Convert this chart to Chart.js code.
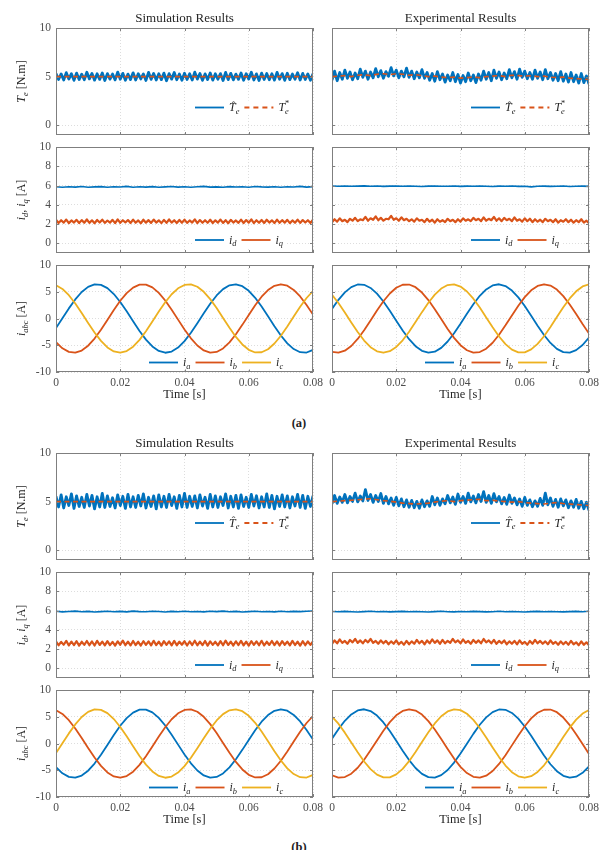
<!DOCTYPE html>
<html><head><meta charset="utf-8">
<script src="https://cdn.jsdelivr.net/npm/chart.js@4.4.0/dist/chart.umd.min.js"></script>
<style>
html,body{margin:0;padding:0;background:#fff;width:602px;height:850px;overflow:hidden;position:relative}
canvas{position:absolute}
.cap{position:absolute;font:bold 12.5px "Liberation Serif",serif;color:#222;width:40px;text-align:center;line-height:14px}
</style></head>
<body>
<div class="cap" style="left:279px;top:416px">(a)</div>
<div class="cap" style="left:279px;top:840px">(b)</div>
<script>
// ---------------- tick values / labels ----------------
const timeTicks = [0, 0.02, 0.04, 0.06, 0.08];
const timeTickLabels = ['0', '0.02', '0.04', '0.06', '0.08'];
const torqueTicks = [0, 5, 10];
const dqTicks = [0, 2, 4, 6, 8, 10];
const abcTicks = [-10, -5, 0, 5, 10];

// sampling grids (s)
const FINE_STEP = 0.0008;   // 101 samples on 0..0.08
const COARSE_STEP = 0.002;  // 41 samples on 0..0.08
const refTimes = [0, 0.08];

// ---------------- (a) torque ----------------
const aSimT = [
5.32,4.71,5.28,4.66,5.41,4.75,5.30,4.62,5.36,4.70,
5.25,4.68,5.45,4.77,5.33,4.64,5.29,4.72,5.38,4.60,
5.31,4.74,5.27,4.67,5.47,4.73,5.34,4.63,5.26,4.70,
5.39,4.65,5.30,4.76,5.28,4.61,5.44,4.72,5.33,4.66,
5.29,4.69,5.36,4.58,5.31,4.74,5.42,4.68,5.27,4.63,
5.35,4.71,5.30,4.66,5.46,4.75,5.32,4.62,5.28,4.70,
5.37,4.64,5.29,4.73,5.31,4.60,5.43,4.69,5.34,4.67,
5.26,4.72,5.38,4.63,5.30,4.75,5.45,4.66,5.28,4.61,
5.36,4.70,5.32,4.68,5.29,4.64,5.44,4.73,5.31,4.62,
5.35,4.69,5.27,4.74,5.40,4.65,5.33,4.71,5.28,4.63,
5.30];
const aSimTref = [5, 5];
const aExpT = [
4.63,5.57,4.58,5.42,4.73,5.67,4.83,5.47,4.68,5.37,
4.78,5.77,4.93,5.57,4.73,5.47,4.88,5.82,4.98,5.62,
4.83,5.52,5.03,5.92,5.08,5.67,4.88,5.57,4.98,5.87,
4.93,5.57,4.78,5.47,4.88,5.72,4.83,5.42,4.63,5.32,
4.53,5.52,4.68,5.27,4.43,5.17,4.58,5.42,4.48,5.22,
4.33,5.12,4.48,5.37,4.58,5.17,4.38,5.27,4.63,5.57,
4.73,5.42,4.58,5.67,4.83,5.47,4.68,5.37,4.78,5.72,
4.88,5.52,4.73,5.77,4.93,5.57,4.78,5.42,4.73,5.67,
4.83,5.47,4.68,5.72,4.78,5.42,4.63,5.32,4.58,5.52,
4.53,5.27,4.43,5.42,4.48,5.17,4.33,5.32,4.38,5.07,
4.23];
const aExpTref = [
5.00,5.05,5.10,5.00,5.15,5.20,5.10,5.25,5.30,5.20,
5.30,5.25,5.15,5.20,5.10,5.00,5.05,4.95,4.90,4.95,
4.85,4.90,4.95,4.90,5.00,5.05,5.10,5.00,5.15,5.10,
5.05,5.10,5.00,5.05,4.95,4.90,4.95,4.85,4.80,4.75,
4.70];

// ---------------- (a) id / iq ----------------
const aSimId = [
5.88,5.82,5.87,5.84,5.90,5.83,5.86,5.89,5.82,5.88,
5.85,5.91,5.83,5.87,5.84,5.89,5.82,5.86,5.90,5.84,
5.88,5.83,5.87,5.91,5.84,5.86,5.82,5.89,5.85,5.88,
5.83,5.90,5.86,5.84,5.88,5.82,5.87,5.85,5.91,5.84,
5.89];
const aSimIq = [
2.45,2.12,2.40,2.15,2.47,2.10,2.38,2.16,2.44,2.11,
2.41,2.14,2.48,2.13,2.39,2.09,2.43,2.16,2.46,2.12,
2.37,2.15,2.44,2.10,2.49,2.13,2.40,2.17,2.42,2.11,
2.46,2.14,2.38,2.09,2.45,2.15,2.41,2.12,2.47,2.16,
2.39,2.10,2.44,2.13,2.48,2.15,2.40,2.11,2.43,2.14,
2.46,2.12,2.38,2.16,2.49,2.10,2.42,2.14,2.40,2.13,
2.45,2.11,2.39,2.15,2.47,2.12,2.41,2.09,2.44,2.16,
2.38,2.13,2.46,2.11,2.42,2.15,2.48,2.10,2.40,2.14,
2.43,2.12,2.45,2.16,2.39,2.11,2.47,2.13,2.41,2.15,
2.44,2.10,2.38,2.14,2.46,2.12,2.42,2.16,2.40,2.11,
2.45];
const aExpId = [
5.95,5.93,5.96,5.92,5.94,5.97,5.93,5.95,5.91,5.94,
5.96,5.92,5.95,5.93,5.90,5.94,5.96,5.92,5.93,5.95,
5.91,5.94,5.92,5.96,5.93,5.90,5.94,5.92,5.95,5.91,
5.93,5.86,5.92,5.94,5.91,5.93,5.95,5.90,5.92,5.94,
5.91];
const aExpIq = [
2.20,2.50,2.25,2.60,2.30,2.45,2.20,2.55,2.35,2.65,
2.30,2.50,2.40,2.75,2.35,2.60,2.45,2.80,2.40,2.65,
2.35,2.55,2.50,2.85,2.45,2.60,2.35,2.70,2.40,2.55,
2.30,2.50,2.25,2.60,2.35,2.45,2.20,2.55,2.25,2.45,
2.15,2.50,2.25,2.40,2.20,2.55,2.30,2.45,2.20,2.50,
2.25,2.60,2.35,2.50,2.30,2.65,2.40,2.55,2.30,2.70,
2.35,2.55,2.40,2.75,2.35,2.60,2.30,2.65,2.40,2.55,
2.30,2.70,2.35,2.50,2.25,2.60,2.30,2.55,2.20,2.50,
2.25,2.45,2.20,2.55,2.30,2.45,2.20,2.50,2.15,2.40,
2.25,2.50,2.20,2.45,2.15,2.40,2.20,2.50,2.15,2.35,
2.10];

// ---------------- (a) phase currents ----------------
const aSimIa = [
-1.80,0.05,1.89,3.57,4.95,5.91,6.37,6.28,5.67,4.57,
3.09,1.34,-0.52,-2.33,-3.95,-5.23,-6.07,-6.40,-6.18,-5.44,
-4.23,-2.67,-0.88,0.98,2.76,4.31,5.49,6.20,6.39,6.04,
5.18,3.87,2.24,0.42,-1.44,-3.18,-4.64,-5.71,-6.30,-6.36,
-5.87];
const aSimIb = [
-4.42,-5.57,-6.24,-6.38,-5.99,-5.08,-3.75,-2.09,-0.26,1.59,
3.31,4.75,5.78,6.33,6.34,5.81,4.79,3.36,1.65,-0.21,
-2.04,-3.70,-5.05,-5.97,-6.38,-6.25,-5.60,-4.46,-2.95,-1.19,
0.67,2.48,4.07,5.32,6.12,6.40,6.14,5.35,4.12,2.53,
0.73];
const aSimIc = [
6.22,5.52,4.35,2.81,1.04,-0.83,-2.62,-4.19,-5.41,-6.16,
-6.40,-6.09,-5.27,-4.00,-2.39,-0.57,1.29,3.04,4.53,5.64,
6.27,6.37,5.93,4.99,3.62,1.95,0.11,-1.74,-3.44,-4.85,
-5.85,-6.35,-6.31,-5.74,-4.68,-3.23,-1.50,0.36,2.19,3.83,
5.14];
const aExpIa = [
1.80,3.49,4.89,5.87,6.36,6.30,5.71,4.64,3.17,1.44,
-0.42,-2.24,-3.87,-5.18,-6.04,-6.39,-6.20,-5.49,-4.30,-2.76,
-0.98,0.89,2.67,4.24,5.44,6.18,6.40,6.07,5.23,3.95,
2.33,0.51,-1.35,-3.09,-4.57,-5.67,-6.28,-6.37,-5.91,-4.95,
-3.57];
const aExpIb = [
-6.22,-6.39,-6.02,-5.14,-3.82,-2.18,-0.36,1.50,3.23,4.68,
5.74,6.31,6.35,5.85,4.85,3.44,1.74,-0.11,-1.95,-3.62,
-4.99,-5.93,-6.37,-6.27,-5.64,-4.53,-3.04,-1.28,0.58,2.39,
4.00,5.27,6.09,6.40,6.16,5.41,4.19,2.62,0.82,-1.04,
-2.81];
const aExpIc = [
4.42,2.90,1.13,-0.73,-2.53,-4.12,-5.36,-6.14,-6.40,-6.12,
-5.32,-4.07,-2.47,-0.67,1.19,2.95,4.47,5.60,6.25,6.38,
5.97,5.05,3.70,2.04,0.20,-1.65,-3.36,-4.79,-5.81,-6.34,
-6.33,-5.78,-4.75,-3.31,-1.59,0.26,2.10,3.75,5.08,5.99,
6.39];

// ---------------- (b) torque ----------------
const bSimT = [
5.55,4.45,5.70,4.35,5.50,4.60,5.80,4.30,5.60,4.50,
5.45,4.40,5.75,4.55,5.65,4.25,5.50,4.45,5.85,4.40,
5.60,4.50,5.40,4.35,5.70,4.60,5.55,4.30,5.75,4.45,
5.50,4.40,5.65,4.55,5.80,4.35,5.45,4.50,5.60,4.25,
5.70,4.45,5.55,4.40,5.75,4.60,5.50,4.30,5.65,4.45,
5.85,4.40,5.55,4.50,5.60,4.35,5.70,4.55,5.45,4.30,
5.75,4.45,5.60,4.40,5.50,4.60,5.80,4.35,5.55,4.45,
5.65,4.30,5.70,4.50,5.45,4.40,5.75,4.55,5.60,4.35,
5.50,4.45,5.80,4.40,5.65,4.25,5.55,4.50,5.70,4.45,
5.60,4.35,5.50,4.55,5.75,4.40,5.65,4.30,5.55,4.50,
5.60];
const bSimTref = [5, 5];
const bExpT = [
4.77,5.63,4.82,5.48,4.92,5.73,4.87,5.53,5.02,5.88,
4.97,5.58,5.07,6.23,5.12,5.73,4.92,5.63,5.02,5.83,
4.82,5.53,4.77,5.38,4.62,5.43,4.57,5.28,4.47,5.18,
4.42,5.13,4.37,5.03,4.32,5.18,4.47,5.08,4.52,5.53,
4.67,5.38,4.62,5.28,4.77,5.63,4.87,5.48,4.72,5.78,
4.92,5.53,4.82,5.88,4.97,5.58,4.87,5.73,5.02,6.03,
4.92,5.63,4.82,5.83,4.97,5.53,4.77,5.43,4.72,5.68,
4.82,5.38,4.67,5.28,4.52,5.43,4.62,5.18,4.47,5.08,
4.52,5.33,4.62,5.88,4.67,5.38,4.52,5.23,4.42,5.28,
4.57,5.18,4.37,5.08,4.42,5.23,4.32,5.03,4.27,4.93,
4.12];
const bExpTref = [
5.00,5.05,5.10,5.15,5.20,5.25,5.30,5.20,5.10,5.05,
4.95,4.85,4.80,4.75,4.80,4.85,4.95,5.05,5.10,5.00,
5.10,5.15,5.20,5.25,5.10,5.15,5.05,5.00,4.95,5.00,
4.90,4.85,4.80,4.75,4.85,4.90,4.80,4.75,4.70,4.65,
4.60];

// ---------------- (b) id / iq ----------------
const bSimId = [
5.92,5.86,5.90,5.94,5.87,5.91,5.85,5.89,5.93,5.88,
5.91,5.86,5.94,5.89,5.87,5.92,5.90,5.85,5.91,5.88,
5.93,5.87,5.90,5.86,5.92,5.89,5.94,5.87,5.91,5.85,
5.89,5.93,5.88,5.90,5.86,5.92,5.87,5.91,5.89,5.93,
5.95];
const bSimIq = [
2.80,2.40,2.75,2.45,2.85,2.38,2.78,2.42,2.82,2.36,
2.76,2.44,2.84,2.40,2.79,2.37,2.86,2.43,2.77,2.39,
2.83,2.41,2.75,2.36,2.81,2.45,2.88,2.40,2.78,2.38,
2.84,2.42,2.76,2.37,2.82,2.44,2.79,2.39,2.86,2.41,
2.77,2.36,2.83,2.43,2.80,2.38,2.85,2.40,2.76,2.45,
2.82,2.37,2.79,2.42,2.87,2.39,2.78,2.41,2.84,2.36,
2.80,2.44,2.76,2.38,2.83,2.40,2.88,2.43,2.77,2.37,
2.81,2.42,2.85,2.39,2.78,2.36,2.82,2.44,2.79,2.40,
2.86,2.38,2.76,2.43,2.84,2.41,2.80,2.37,2.83,2.45,
2.78,2.39,2.85,2.42,2.77,2.36,2.82,2.40,2.79,2.44,
2.81];
const bExpId = [
5.90,5.87,5.91,5.88,5.85,5.89,5.92,5.87,5.90,5.86,
5.89,5.91,5.87,5.90,5.88,5.85,5.89,5.92,5.88,5.86,
5.90,5.87,5.91,5.89,5.86,5.88,5.92,5.87,5.90,5.88,
5.85,5.89,5.91,5.87,5.90,5.88,5.86,5.89,5.91,5.87,
5.92];
const bExpIq = [
2.55,2.90,2.60,3.00,2.65,2.85,2.55,2.95,2.70,3.05,
2.65,2.90,2.60,2.95,2.70,3.05,2.65,2.85,2.55,2.90,
2.60,2.85,2.50,2.80,2.55,2.90,2.50,2.75,2.45,2.85,
2.50,2.80,2.55,2.95,2.60,2.85,2.50,2.90,2.60,3.00,
2.65,2.90,2.55,2.95,2.60,2.85,2.65,3.05,2.70,2.90,
2.60,3.00,2.65,2.85,2.55,2.95,2.65,2.90,2.60,3.05,
2.70,2.90,2.60,2.95,2.55,2.85,2.60,2.90,2.50,2.80,
2.55,2.85,2.50,2.90,2.55,2.75,2.45,2.85,2.55,2.95,
2.60,2.85,2.55,2.80,2.50,2.90,2.55,2.75,2.45,2.80,
2.50,2.75,2.45,2.85,2.50,2.70,2.40,2.80,2.45,2.70,
2.40];

// ---------------- (b) phase currents ----------------
// simulation (b): same waveforms as (a) with the phase labels rotated
const bSimIa = aSimIb;
const bSimIb = aSimIc;
const bSimIc = aSimIa;
const bExpIa = [
0.89,2.68,4.24,5.44,6.18,6.40,6.07,5.23,3.94,2.33,
0.51,-1.35,-3.10,-4.58,-5.67,-6.29,-6.37,-5.91,-4.95,-3.57,
-1.88,-0.04,1.80,3.50,4.89,5.87,6.36,6.30,5.71,4.64,
3.17,1.43,-0.43,-2.25,-3.88,-5.18,-6.04,-6.39,-6.20,-5.48,
-4.30];
const bExpIb = [
-5.93,-6.37,-6.27,-5.64,-4.53,-3.03,-1.28,0.58,2.39,4.00,
5.27,6.09,6.40,6.16,5.40,4.18,2.61,0.82,-1.04,-2.82,
-4.36,-5.52,-6.22,-6.39,-6.02,-5.14,-3.82,-2.18,-0.35,1.50,
3.23,4.69,5.74,6.31,6.35,5.85,4.85,3.44,1.74,-0.11,
-1.95];
const bExpIc = [
5.04,3.70,2.03,0.20,-1.65,-3.36,-4.79,-5.81,-6.34,-6.33,
-5.78,-4.74,-3.30,-1.58,0.27,2.10,3.75,5.09,5.99,6.39,
6.24,5.56,4.42,2.89,1.13,-0.74,-2.54,-4.12,-5.36,-6.14,
-6.40,-6.12,-5.32,-4.07,-2.47,-0.66,1.20,2.96,4.47,5.60,
6.25];

// ---------------- styling ----------------
const SERIF = '"Liberation Serif", "Times New Roman", serif';
const BLUE = '#0072BD', ORANGE = '#D95319', YELLOW = '#EDB120';
const TICK_COLOR = '#4d4d4d', BOX_COLOR = '#7f7f7f', GRID_COLOR = '#d4d4d4', TEXT_COLOR = '#262626';

const tFine = Array.from({length: 101}, (_, i) => +(i * FINE_STEP).toFixed(4));
const tCoarse = Array.from({length: 41}, (_, i) => +(i * COARSE_STEP).toFixed(4));

// math-like text (italic letters, subscripts, superscripts, hat)
function mathText(ctx, parts, x, y, size, color, draw) {
  let cx = x, prevX = x, prevW = 0, supStart = null, supEnd = 0;
  ctx.save();
  if (color) ctx.fillStyle = color;
  ctx.textBaseline = 'alphabetic'; ctx.textAlign = 'left';
  for (const [t, k] of parts) {
    if (k === 'h') {
      ctx.font = `${size * 0.9}px ${SERIF}`;
      const w = ctx.measureText(t).width;
      if (draw) ctx.fillText(t, prevX + prevW / 2 - w / 2 + size * 0.1, y - size * 0.2);
      continue;
    }
    const small = (k === 's' || k === 'p');
    const fs = small ? size * 0.7 : size;
    const dy = k === 's' ? size * 0.22 : (k === 'p' ? -size * 0.4 : 0);
    const italic = (k === 'i' || k === 's');
    ctx.font = `${italic ? 'italic ' : ''}${fs}px ${SERIF}`;
    const w = ctx.measureText(t).width;
    let px = cx;
    if (k === 's' && supStart !== null) px = supStart;
    if (draw) ctx.fillText(t, px, y + dy);
    if (k === 'p') { supStart = cx; supEnd = cx + w; cx += w; }
    else if (k === 's' && supStart !== null) { cx = Math.max(supEnd, px + w); supStart = null; }
    else { prevX = cx; prevW = w; cx += w; }
  }
  ctx.restore();
  return cx - x;
}

const kinds = {
  T:   {min: -1, max: 10, ticks: torqueTicks,
        ylabel: [['T', 'i'], ['e', 's'], [' [N.m]', 'r']],
        legend: [[['T', 'i'], ['\u02C6', 'h'], ['e', 's']], [['T', 'i'], ['*', 'p'], ['e', 's']]]},
  dq:  {min: -1, max: 10, ticks: dqTicks,
        ylabel: [['i', 'i'], ['d', 's'], [', ', 'r'], ['i', 'i'], ['q', 's'], [' [A]', 'r']],
        legend: [[['i', 'i'], ['d', 's']], [['i', 'i'], ['q', 's']]]},
  abc: {min: -10, max: 10, ticks: abcTicks,
        ylabel: [['i', 'i'], ['abc', 's'], [' [A]', 'r']],
        legend: [[['i', 'i'], ['a', 's']], [['i', 'i'], ['b', 's']], [['i', 'i'], ['c', 's']]]}
};

const columns = {
  sim: {canvasX: 0, width: 330, left: 56, right: 313, showY: true, title: 'Simulation Results'},
  exp: {canvasX: 318, width: 284, left: 332, right: 589, showY: false, title: 'Experimental Results'}
};
const rows = {
  a1: {top: 28, bottom: 135, kind: 'T', first: true, legDy: 27.5, legDx: 139},
  a2: {top: 147, bottom: 253, kind: 'dq', legDy: 13, legDx: 139},
  a3: {top: 265, bottom: 372, kind: 'abc', last: true, legDy: 9.5, legDx: 93},
  b1: {top: 453, bottom: 560, kind: 'T', first: true, legDy: 37, legDx: 139},
  b2: {top: 572, bottom: 678, kind: 'dq', legDy: 13, legDx: 139},
  b3: {top: 690, bottom: 797, kind: 'abc', last: true, legDy: 9.5, legDx: 93}
};

// series: [times, values, color, dashed, width]
const panels = [
  {row: 'a1', col: 'sim', series: [[tFine, aSimT, BLUE, false, 2.8], [refTimes, aSimTref, ORANGE, true, 1.6]]},
  {row: 'a1', col: 'exp', series: [[tFine, aExpT, BLUE, false, 2.8], [tCoarse, aExpTref, ORANGE, true, 1.6]]},
  {row: 'a2', col: 'sim', series: [[tCoarse, aSimId, BLUE, false, 1.6], [tFine, aSimIq, ORANGE, false, 2.2]]},
  {row: 'a2', col: 'exp', series: [[tCoarse, aExpId, BLUE, false, 1.6], [tFine, aExpIq, ORANGE, false, 2.2]]},
  {row: 'a3', col: 'sim', series: [[tCoarse, aSimIa, BLUE, false, 1.8], [tCoarse, aSimIb, ORANGE, false, 1.8], [tCoarse, aSimIc, YELLOW, false, 1.8]]},
  {row: 'a3', col: 'exp', series: [[tCoarse, aExpIa, BLUE, false, 1.8], [tCoarse, aExpIb, ORANGE, false, 1.8], [tCoarse, aExpIc, YELLOW, false, 1.8]]},
  {row: 'b1', col: 'sim', series: [[tFine, bSimT, BLUE, false, 2.8], [refTimes, bSimTref, ORANGE, true, 1.6]]},
  {row: 'b1', col: 'exp', series: [[tFine, bExpT, BLUE, false, 2.8], [tCoarse, bExpTref, ORANGE, true, 1.6]]},
  {row: 'b2', col: 'sim', series: [[tCoarse, bSimId, BLUE, false, 1.6], [tFine, bSimIq, ORANGE, false, 2.2]]},
  {row: 'b2', col: 'exp', series: [[tCoarse, bExpId, BLUE, false, 1.6], [tFine, bExpIq, ORANGE, false, 2.2]]},
  {row: 'b3', col: 'sim', series: [[tCoarse, bSimIa, BLUE, false, 1.8], [tCoarse, bSimIb, ORANGE, false, 1.8], [tCoarse, bSimIc, YELLOW, false, 1.8]]},
  {row: 'b3', col: 'exp', series: [[tCoarse, bExpIa, BLUE, false, 1.8], [tCoarse, bExpIb, ORANGE, false, 1.8], [tCoarse, bExpIc, YELLOW, false, 1.8]]}
];

function makePanel(p) {
  const col = columns[p.col], row = rows[p.row], kind = kinds[row.kind];
  const padTop = row.first ? 28 : 10;
  const hx = row.last ? 30 : 0;
  const padBottom = row.last ? 2 : 8;
  const canvasTop = row.top - padTop;
  const height = (row.bottom - row.top) + padTop + hx + padBottom;
  const wy = col.left - col.canvasX;
  const padRight = col.canvasX + col.width - col.right;

  const cv = document.createElement('canvas');
  cv.width = col.width; cv.height = height;
  cv.style.left = col.canvasX + 'px'; cv.style.top = canvasTop + 'px';
  cv.style.width = col.width + 'px'; cv.style.height = height + 'px';
  document.body.appendChild(cv);

  const n = p.series.length;
  const datasets = p.series.map(([ts, vs, color, dashed, w], i) => ({
    data: ts.map((t, j) => ({x: t, y: vs[j]})),
    borderColor: color, borderWidth: w, borderDash: dashed ? [5, 3.5] : [],
    borderJoinStyle: 'round',
    pointRadius: 0, fill: false, tension: 0, order: n - i
  }));

  const zeroPad = s => { s.paddingLeft = 0; s.paddingRight = 0; s.paddingTop = 0; s.paddingBottom = 0; };

  const deco = {
    id: 'deco_' + p.row + p.col,
    afterDatasetsDraw(chart) {
      const {ctx, chartArea: a, scales: {x, y}} = chart;
      ctx.save();
      ctx.strokeStyle = BOX_COLOR; ctx.lineWidth = 1;
      const L = Math.round(a.left), T = Math.round(a.top), R = Math.round(a.right), B = Math.round(a.bottom);
      ctx.strokeRect(L + 0.5, T + 0.5, R - L - 1, B - T - 1);
      const TL = 3;
      ctx.beginPath();
      for (const v of timeTicks) {
        const px = Math.round(x.getPixelForValue(v)) + 0.5;
        ctx.moveTo(px, B); ctx.lineTo(px, B - TL);
        ctx.moveTo(px, T); ctx.lineTo(px, T + TL);
      }
      for (const v of kind.ticks) {
        const py = Math.round(y.getPixelForValue(v)) + 0.5;
        ctx.moveTo(L, py); ctx.lineTo(L + TL, py);
        ctx.moveTo(R, py); ctx.lineTo(R - TL, py);
      }
      ctx.stroke();
      ctx.restore();
    },
    afterDraw(chart) {
      const {ctx, chartArea: a} = chart;
      const size = 12, sample = 29;
      let lx = a.left + row.legDx;
      const ly = a.bottom - row.legDy;
      const widths = kind.legend.map(parts => mathText(ctx, parts, 0, 0, size, null, false));
      const total = widths.reduce((s, w) => s + sample + 5 + w + 5, 0) - 5;
      ctx.save();
      ctx.fillStyle = '#fff';
      ctx.fillRect(lx - 2, ly - 7, total + 4, 14);
      kind.legend.forEach((parts, i) => {
        const [ , , color, dashed] = p.series[i];
        ctx.strokeStyle = color; ctx.lineWidth = 1.8;
        ctx.setLineDash(dashed ? [5, 4] : []);
        ctx.beginPath(); ctx.moveTo(lx, ly); ctx.lineTo(lx + sample, ly); ctx.stroke();
        mathText(ctx, parts, lx + sample + 5, ly + size * 0.3, size, TEXT_COLOR, true);
        lx += sample + 5 + widths[i] + 5;
      });
      ctx.restore();
      if (row.first) {
        ctx.save();
        ctx.font = `13px ${SERIF}`; ctx.fillStyle = TEXT_COLOR;
        ctx.textAlign = 'center'; ctx.textBaseline = 'middle';
        ctx.fillText(col.title, (a.left + a.right) / 2, a.top - 9);
        ctx.restore();
      }
      if (col.showY) {
        const w = mathText(ctx, kind.ylabel, 0, 0, 12, null, false);
        ctx.save();
        ctx.translate(21, (a.top + a.bottom) / 2);
        ctx.rotate(-Math.PI / 2);
        mathText(ctx, kind.ylabel, -w / 2, 12 * 0.33, 12, TEXT_COLOR, true);
        ctx.restore();
      }
    }
  };

  new Chart(cv, {
    type: 'line',
    data: {datasets},
    options: {
      responsive: false, animation: false, events: [], devicePixelRatio: 1,
      layout: {padding: {left: 0, top: padTop, right: padRight, bottom: padBottom}},
      plugins: {legend: {display: false}, tooltip: {enabled: false}, title: {display: false}},
      scales: {
        x: {
          type: 'linear', min: 0, max: 0.08,
          afterBuildTicks: s => { s.ticks = timeTicks.map(v => ({value: v})); },
          afterFit: s => { s.height = hx; zeroPad(s); },
          ticks: {display: !!row.last, autoSkip: false, maxRotation: 0, minRotation: 0, padding: 4,
                  color: TICK_COLOR, font: {family: SERIF, size: 11.5},
                  callback: (v, i) => timeTickLabels[i]},
          grid: {color: GRID_COLOR, lineWidth: 0.8, drawTicks: false, borderDash: [1, 2]},
          border: {display: false, dash: [1, 2]},
          title: {display: !!row.last, text: 'Time [s]', color: TEXT_COLOR,
                  font: {family: SERIF, size: 12.5}, padding: {top: 0, bottom: 0}}
        },
        y: {
          type: 'linear', min: kind.min, max: kind.max,
          afterBuildTicks: s => { s.ticks = kind.ticks.map(v => ({value: v})); },
          afterFit: s => { s.width = wy; zeroPad(s); },
          ticks: {display: col.showY, autoSkip: false, padding: 5, color: TICK_COLOR,
                  font: {family: SERIF, size: 11.5}, callback: v => String(v)},
          grid: {color: GRID_COLOR, lineWidth: 0.8, drawTicks: false, borderDash: [1, 2]},
          border: {display: false, dash: [1, 2]}
        }
      }
    },
    plugins: [deco]
  });
}

panels.forEach(makePanel);
</script>
</body></html>
